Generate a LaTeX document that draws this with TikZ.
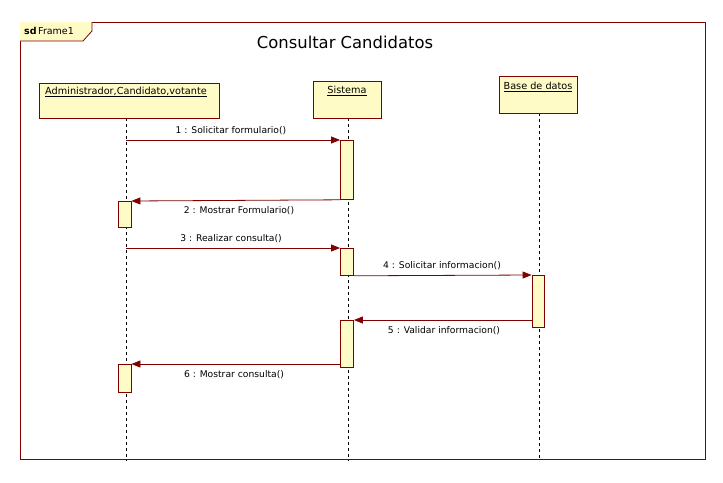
\documentclass[tikz,border=0pt]{standalone}
\usepackage{fontspec}
\setmainfont{DejaVu Sans}
\usetikzlibrary{arrows.meta}
\definecolor{umlred}{HTML}{800000}
\definecolor{umlfill}{HTML}{FFFBC6}
\tikzset{
  x=1pt, y=-1pt,
  objbox/.style={draw=umlred, fill=umlfill, line width=0.8pt},
  actbox/.style={draw=umlred, fill=umlfill, line width=0.8pt},
  lifeline/.style={dash pattern=on 3pt off 3pt, line width=0.7pt, black},
  msg/.style={draw=umlred, line width=0.8pt, -{Triangle[length=9pt,width=7pt]}},
  lbl/.style={font=\fontsize{9.2}{10}\selectfont, inner sep=0pt},
  objlbl/.style={font=\fontsize{9.7}{11}\selectfont, inner sep=0pt}
}
\begin{document}
\begin{tikzpicture}
\useasboundingbox (0,0) rectangle (723,482);
\fill[white] (0,0) rectangle (723,482);
% frame
\draw[umlred, line width=0.8pt] (20,22) rectangle (705,459);
\fill[umlfill] (20,22) -- (92,22) -- (92,31) -- (83,41) -- (20,41) -- cycle;
\draw[umlred, line width=0.8pt] (20,41) -- (83,41) -- (92,31) -- (92,22);
\node[anchor=west, inner sep=0pt, font=\fontsize{9.5}{11}\selectfont] (frm) at (24,31) {\textbf{sd}\,Frame1};
\node[font=\fontsize{16.4}{19}\selectfont, inner sep=0pt] (title) at (345,42) {Consultar Candidatos};
% lifelines
\coordinate (aend) at (126,461);
\coordinate (send) at (348,461);
\coordinate (bend) at (539,461);
\draw[lifeline] (126,118) -- (aend);
\draw[lifeline] (348,118) -- (send);
\draw[lifeline] (539,113) -- (bend);
% object boxes
\draw[objbox] (39,83) rectangle (219,118);
\node[objlbl] (actor) at (126,92) {\underline{Administrador,Candidato,votante}};
\draw[objbox] (313,81) rectangle (381,118);
\node[objlbl] (sis) at (347,91) {\underline{Sistema}};
\draw[objbox] (499,76) rectangle (577,113);
\node[objlbl] (bd) at (538,87) {\underline{Base de datos}};
% activations
\node[actbox, minimum width=13pt, minimum height=59pt, inner sep=0pt, anchor=north] (s1) at (347,140) {};
\node[actbox, minimum width=13pt, minimum height=26pt, inner sep=0pt, anchor=north] (a1) at (124.5,201) {};
\node[actbox, minimum width=13pt, minimum height=27pt, inner sep=0pt, anchor=north] (s2) at (347,248) {};
\node[actbox, minimum width=12pt, minimum height=52pt, inner sep=0pt, anchor=north] (b1) at (538,275) {};
\node[actbox, minimum width=13pt, minimum height=47pt, inner sep=0pt, anchor=north] (s3) at (347,320) {};
\node[actbox, minimum width=13pt, minimum height=28pt, inner sep=0pt, anchor=north] (a2) at (124.5,364) {};
% messages
\coordinate (m1s) at (126,140);
\draw[msg] (m1s) -- (s1.north west);
\node[lbl] (l1) at (231,131) {1 : Solicitar formulario()};
\draw[msg] (s1.south west) -- (a1.north east);
\node[lbl] (l2) at (239,211) {2 : Mostrar Formulario()};
\coordinate (m3s) at (126,248);
\draw[msg] (m3s) -- (s2.north west);
\node[lbl] (l3) at (231,239) {3 : Realizar consulta()};
\draw[msg] (s2.south east) -- (b1.north west);
\node[lbl] (l4) at (442,266) {4 : Solicitar informacion()};
\draw[msg] (b1.south west |- 0,320) -- (s3.north east);
\node[lbl] (l5) at (444,331) {5 : Validar informacion()};
\draw[msg] (s3.south west |- 0,364) -- (a2.north east);
\node[lbl] (l6) at (234,375) {6 : Mostrar consulta()};
\end{tikzpicture}
\end{document}
